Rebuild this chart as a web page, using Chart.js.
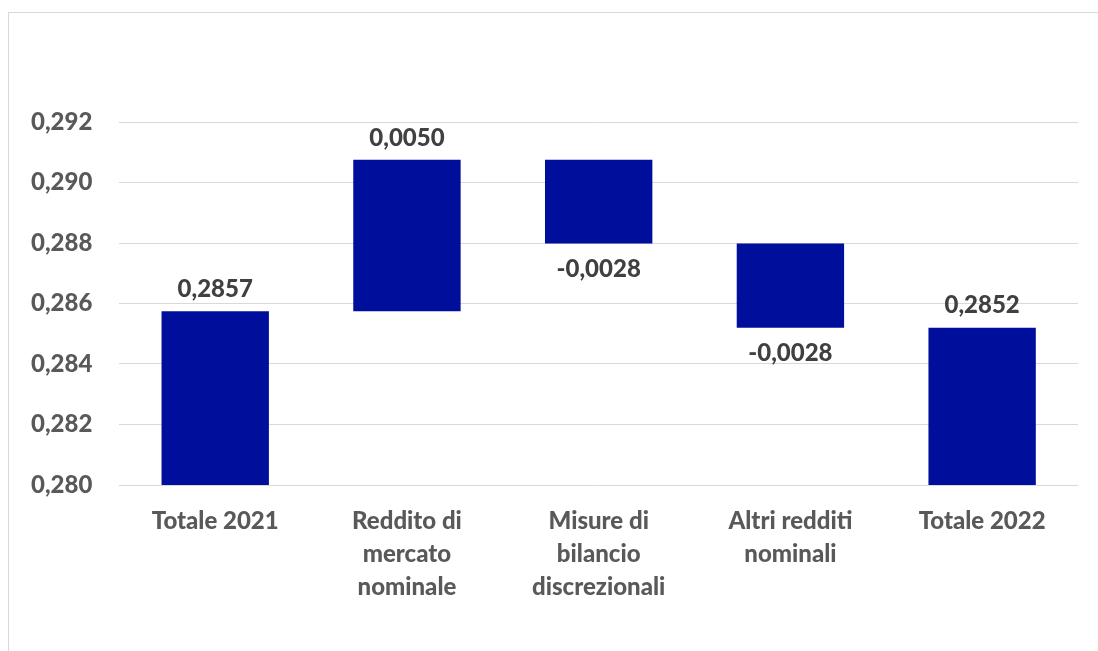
<!DOCTYPE html>
<html>
<head>
<meta charset="utf-8">
<script src="https://cdn.jsdelivr.net/npm/chart.js@4.4.1/dist/chart.umd.min.js"></script>
<style>
    body { margin: 0; background: #fff; }
    #frame {
        position: absolute; left: 8px; top: 12px; width: 1200px; height: 700px;
        border: 1px solid #d9d9d9;
    }
    #wrap { position: absolute; left: 0; top: 0; width: 1098px; height: 651px; }
</style>
</head>
<body>
<div id="frame"></div>
<div id="wrap"><canvas id="chart"></canvas></div>
<script>
var categories = [
    'Totale 2021',
    ['Reddito di', 'mercato', 'nominale'],
    ['Misure di', 'bilancio', 'discrezionali'],
    ['Altri redditi', 'nominali'],
    'Totale 2022'
];
var total2021 = 0.28574;
var deltas = [0.00501, -0.00277, -0.00278];
var total2022 = 0.28520;
var yTicks = { min: 0.280, max: 0.292, step: 0.002 };

var BAR_COLOR = '#000e9c';
var FONT = 'Lato';
var FONT_SIZE = 24;
var FONT_WEIGHT = '900';

function fmt(v, d) {
    return v.toFixed(d).replace('.', ',');
}

// floating bars: [start, end] for each step of the waterfall
var floating = [[yTicks.min, total2021]];
var labelValues = [total2021];
var running = total2021;
for (var i = 0; i < deltas.length; i++) {
    floating.push([running, running + deltas[i]]);
    labelValues.push(deltas[i]);
    running += deltas[i];
}
floating.push([yTicks.min, total2022]);
labelValues.push(total2022);

var labelPlugin = {
    id: 'waterfallLabels',
    afterDatasetsDraw: function(chart) {
        var ctx = chart.ctx;
        var meta = chart.getDatasetMeta(0);
        ctx.save();
        ctx.font = FONT_WEIGHT + ' ' + FONT_SIZE + 'px "' + FONT + '"';
        ctx.fillStyle = '#404040';
        ctx.textAlign = 'center';
        ctx.textBaseline = 'middle';
        meta.data.forEach(function(bar, i) {
            var v = labelValues[i];
            var top = Math.min(bar.y, bar.base);
            var bottom = Math.max(bar.y, bar.base);
            if (v >= 0) {
                ctx.fillText(fmt(v, 4), bar.x, top - 22);
            } else {
                ctx.fillText(fmt(v, 4), bar.x, bottom + 26);
            }
        });
        ctx.restore();
    }
};

new Chart(document.getElementById('chart'), {
    type: 'bar',
    data: {
        labels: categories,
        datasets: [{
            data: floating,
            backgroundColor: BAR_COLOR,
            borderSkipped: false,
            barPercentage: 0.56,
            categoryPercentage: 1.0
        }]
    },
    options: {
        responsive: true,
        maintainAspectRatio: false,
        animation: false,
        layout: { padding: { left: 4, right: 20, top: 122, bottom: 35 } },
        plugins: {
            legend: { display: false },
            tooltip: { enabled: false }
        },
        scales: {
            x: {
                grid: { display: false },
                border: { display: false },
                ticks: {
                    color: '#595959',
                    font: { family: FONT, size: FONT_SIZE, weight: FONT_WEIGHT, lineHeight: 1.375 },
                    maxRotation: 0,
                    autoSkip: false,
                    padding: 12
                }
            },
            y: {
                min: yTicks.min,
                max: yTicks.max,
                grid: { color: '#d9d9d9', lineWidth: 1, drawTicks: false },
                border: { display: false },
                ticks: {
                    stepSize: yTicks.step,
                    color: '#595959',
                    font: { family: FONT, size: FONT_SIZE, weight: FONT_WEIGHT },
                    padding: 27,
                    callback: function(v) { return fmt(v, 3); }
                }
            }
        }
    },
    plugins: [labelPlugin]
});
</script>
</body>
</html>
